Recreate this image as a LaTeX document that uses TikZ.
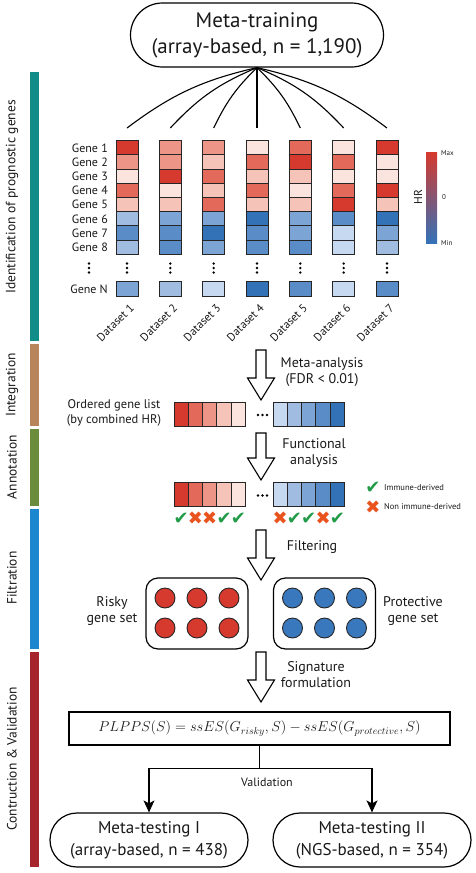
\documentclass[tikz,border=0pt]{standalone}
\usepackage[no-math]{fontspec}
\setmainfont{PT Sans}
\newfontfamily\symfont{DejaVu Sans}
\usetikzlibrary{arrows.meta,calc}

% heat colours
\definecolor{r1}{HTML}{D6392D}
\definecolor{r2}{HTML}{E36A5A}
\definecolor{r3}{HTML}{ED9687}
\definecolor{r4}{HTML}{F5C3B8}
\definecolor{r5}{HTML}{FBE4DE}
\definecolor{b1}{HTML}{3472B8}
\definecolor{b2}{HTML}{5A8DC8}
\definecolor{b3}{HTML}{7CA4D5}
\definecolor{b4}{HTML}{A0BDE1}
\definecolor{b5}{HTML}{C6D9F0}
% phase colours
\definecolor{cteal}{HTML}{118C88}
\definecolor{cbrown}{HTML}{B8845C}
\definecolor{cgreen}{HTML}{6A8C3C}
\definecolor{cblue}{HTML}{1C87CF}
\definecolor{cred}{HTML}{A6252D}
\definecolor{ckgreen}{HTML}{229B48}
\definecolor{ckorange}{HTML}{E8531E}
\definecolor{gblue}{HTML}{3A78BE}

\newcommand{\fsz}[2]{\fontsize{#1}{#2}\selectfont}
\newcommand{\chk}{\textcolor{ckgreen}{\symfont ✔}}
\newcommand{\crs}{\textcolor{ckorange}{\symfont ✖}}
\newcommand{\hollowdown}[2]{%
  \draw[line width=1.1pt, fill=white, line join=miter] let \p1=(#1), \p2=(#2) in
    (\x1-5pt,\y1) -- (\x1-5pt,\y2+22pt) -- (\x1-13.5pt,\y2+22pt) -- (\x1,\y2)
    -- (\x1+13.5pt,\y2+22pt) -- (\x1+5pt,\y2+22pt) -- (\x1+5pt,\y1) -- cycle;}

\begin{document}
\begin{tikzpicture}[x=1pt,y=-1pt,
    every node/.style={inner sep=0pt, text=black!90},
    pill/.style={draw, line width=1.2pt, align=center, fill=white},
    cell/.style={draw=black!85, line width=0.9pt, minimum width=22pt, minimum height=14.2pt},
    barcell/.style={draw=black!85, line width=0.9pt, minimum width=14.3pt, minimum height=24pt},
    gene/.style={circle, draw=black!85, line width=0.9pt, minimum size=20pt},
    setbox/.style={draw, line width=1.2pt, rounded corners=12pt, minimum width=102pt, minimum height=71pt},
    genelab/.style={anchor=east, font=\fsz{12}{13}},
    dslab/.style={anchor=east, rotate=45, font=\fsz{11.5}{13}},
    steplab/.style={align=center, font=\fsz{14}{16}},
    phase/.style={rotate=90, font=\fsz{13.5}{15}},
    fan/.style={line width=1.1pt},
    conn/.style={line width=1.2pt, -{Stealth[length=12pt,width=11pt,inset=3pt]}},
    immark/.style={font=\fsz{18}{18}},
  ]
  \useasboundingbox (0,0) rectangle (475,873);

  % Phases
  \fill[cteal] (30,72) rectangle (39,341);
  \fill[cbrown] (30,344) rectangle (39,426);
  \fill[cgreen] (30,429) rectangle (39,506);
  \fill[cblue] (30,509) rectangle (39,649);
  \fill[cred] (30,652) rectangle (39,867);
  \node[phase] (ph1) at (12,197) {Identification of prognostic genes};
  \node[phase] (ph2) at (12,385) {Integration};
  \node[phase] (ph3) at (12,467) {Annotation};
  \node[phase] (ph4) at (12,578) {Filtration};
  \node[phase] (ph5) at (12,759) {Contruction \& Validation};

  % Meta-training
  \node[pill, minimum width=253pt, minimum height=64pt, rounded corners=32pt,
    font=\fsz{21}{26}] (meta) at (257,35) {Meta-training\\(array-based, n = 1,190)};

  % Heatmap
  \foreach \x/\list/\last [count=\i] in {127/{r1,r3,r5,r2,r4,b4,b2,b4}/b3,
      170.3/{r3,r3,r1,r5,r4,b3,b2,b2}/b4, 213.7/{r3,r4,r2,r4,r2,b3,b1,b3}/b5,
      257/{r5,r2,r4,r2,r4,b1,b2,b2}/b1, 300.3/{r2,r1,r4,r5,r4,b3,b3,b2}/b2,
      343.7/{r5,r2,r5,r2,r1,b2,b5,b5}/b5, 387/{r1,r5,r5,r1,r4,b1,b3,b4}/b2} {
    \foreach \c [count=\j] in \list
      \node[cell, fill=\c] (h\i-\j) at (\x,133.6+14.2*\j) {};
    \node[cell, fill=\last, minimum height=15pt] (h\i-N) at (\x,289) {};
    \foreach \d in {263.5,268,272.5}
      \fill (\x,\d) circle (1.3pt);
    \node[dslab] (d\i) at (\x+5,306) {Dataset \i};
    \coordinate (f\i) at (\x,128);
  }

  % Fan lines
  \foreach \i/\a in {1/-12,2/-12,3/-10,4/0,5/10,6/12,7/12}
    \draw[fan] (meta.south) to[bend left=\a] (f\i);

  % Gene labels
  \foreach \j in {1,...,8}
    \node[genelab] (g\j) at (108,133.6+14.2*\j) {Gene \j};
  \node[genelab] (gN) at (108,289) {Gene N};
  \foreach \d in {263.5,268,272.5}
    \fill (89,\d) circle (1.3pt);

  % HR legend
  \shade[top color=r1, middle color=white, bottom color=b1] (426,152) rectangle (437,243);
  \node[rotate=90, font=\fsz{11.5}{13}] (hr) at (418,197) {HR};
  \node[anchor=west, font=\fsz{7}{8}] (hrmax) at (441,153) {Max};
  \node[anchor=west, font=\fsz{7}{8}] (hrzero) at (442,197) {0};
  \node[anchor=west, font=\fsz{7}{8}] (hrmin) at (441,243) {Min};

  % Meta-analysis
  \coordinate (a1s) at (261,350);
  \coordinate (a1e) at (261,400);
  \hollowdown{a1s}{a1e}
  \node[steplab] (ma) at (322,372) {Meta-analysis\\(FDR < 0.01)};

  % Ordered gene list and annotated list
  \foreach \y/\n in {414/o,494.5/a} {
    \foreach \c [count=\k] in {r1,r2,r3,r4,r5}
      \node[barcell, fill=\c] (\n-r\k) at (166.85+14.3*\k,\y) {};
    \foreach \c [count=\k] in {b5,b4,b3,b2,b1}
      \node[barcell, fill=\c] (\n-b\k) at (265.85+14.3*\k,\y) {};
    \foreach \d in {258,262.5,267}
      \fill (\d,\y+1) circle (1.3pt);
  }
  \node[align=center, font=\fsz{12.5}{15}] (olab) at (114,413) {Ordered gene list\\(by combined HR)};

  % Functional analysis
  \coordinate (a2s) at (261,433);
  \coordinate (a2e) at (261,480);
  \hollowdown{a2s}{a2e}
  \node[steplab] (fa) at (314,452.5) {Functional\\analysis};

  % Immune marks
  \foreach \m [count=\k] in {\chk,\crs,\crs,\chk,\chk}
    \node[immark] (mr\k) at ($(a-r\k)+(0,24)$) {\m};
  \foreach \m [count=\k] in {\crs,\chk,\chk,\crs,\chk}
    \node[immark] (mb\k) at ($(a-b\k)+(0,24)$) {\m};
  \node[immark] (lchk) at (373,488) {\chk};
  \node[anchor=west, font=\fsz{8.5}{9}] (limm) at (384,488) {Immune-derived};
  \node[immark] (lcrs) at (373,507) {\crs};
  \node[anchor=west, font=\fsz{8.5}{9}] (lnon) at (384,507) {Non immune-derived};

  % Filtering
  \coordinate (a3s) at (261,530);
  \coordinate (a3e) at (261,580);
  \hollowdown{a3s}{a3e}
  \node[steplab] (fi) at (312,547) {Filtering};

  % Gene sets
  \node[setbox] (risky) at (197,613.5) {};
  \node[setbox] (prot) at (324.5,613.5) {};
  \foreach \x [count=\k] in {165,197,229}
    \foreach \y [count=\m] in {598,628}
      \node[gene, fill=r1] (rg\k\m) at (\x,\y) {};
  \foreach \x [count=\k] in {292.5,324.5,356.5}
    \foreach \y [count=\m] in {598,628}
      \node[gene, fill=gblue] (pg\k\m) at (\x,\y) {};
  \node[steplab] (rl) at (112,611) {Risky\\gene set};
  \node[steplab] (pl) at (413,611) {Protective\\gene set};

  % Signature formulation
  \coordinate (a4s) at (261,652);
  \coordinate (a4e) at (261,702);
  \hollowdown{a4s}{a4e}
  \node[steplab] (sf) at (316,675) {Signature\\formulation};

  % PLPPS
  \node[draw, line width=1.2pt, minimum width=381pt, minimum height=33pt, font=\fsz{14.4}{17}]
    (plpps) at (259.5,728.5) {$PLPPS(S) = ssES(G_{risky},S) - ssES(G_{protective},S)$};

  % Validation
  \node[pill, minimum width=198pt, minimum height=54pt, rounded corners=27pt,
    font=\fsz{17}{22}] (mt1) at (149,840) {Meta-testing I\\(array-based, n = 438)};
  \node[pill, minimum width=198pt, minimum height=54pt, rounded corners=27pt,
    font=\fsz{17}{22}] (mt2) at (372,840) {Meta-testing II\\(NGS-based, n = 354)};
  \draw[line width=1.2pt] (plpps.south) -- ++(0,23) coordinate (split);
  \draw[conn] (split) -| (mt1.north);
  \draw[conn] (split) -| (mt2.north);
  \node[font=\fsz{12}{13}] (val) at (267,782) {Validation};
\end{tikzpicture}
\end{document}
